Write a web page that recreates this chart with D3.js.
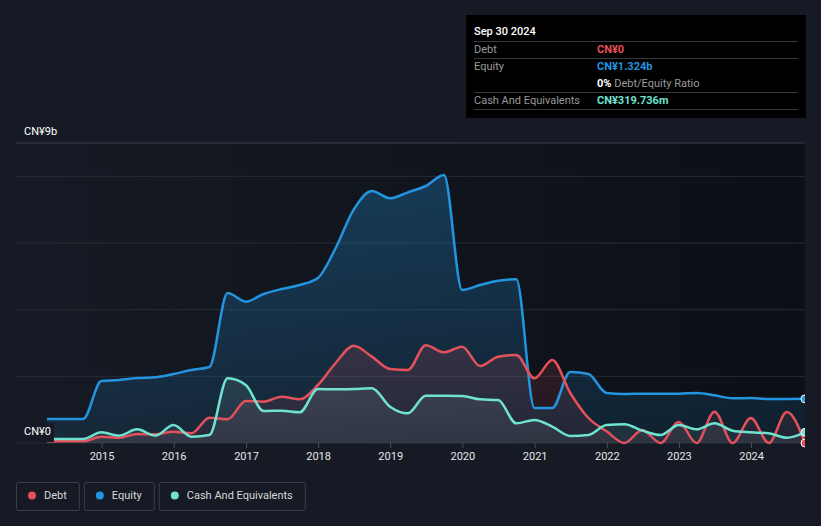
<!DOCTYPE html>
<html>
<head>
<meta charset="utf-8">
<script src="https://cdn.jsdelivr.net/npm/d3@7"></script>
<style>
  body { margin: 0; background: #151a24; }
  svg { display: block; font-family: Roboto, "Noto Sans", sans-serif; }
</style>
</head>
<body>
<svg id="chart" width="821" height="526"></svg>
<script>
// quarter ends, Mar 2014 .. Sep 2024
const quarters = d3.range(0, 43).map(i => {
  const yr = 2014 + Math.floor(i / 4);
  const q = i % 4; // 0 = Mar, 1 = Jun, 2 = Sep, 3 = Dec
  return new Date(yr, q * 3 + 2, q === 0 || q === 3 ? 31 : 30);
});

// values in CN¥ billions
const equity = [0.72, 0.72, 0.72, 1.86, 1.89, 1.95, 1.97, 2.07, 2.19, 2.28, 4.5, 4.24, 4.47, 4.62, 4.74,
  4.95, 5.85, 7.0, 7.56, 7.34, 7.52, 7.71, 8.04, 4.59, 4.74, 4.87, 4.91, 1.05, 1.05, 2.13, 2.07,
  1.5, 1.47, 1.48, 1.48, 1.48, 1.5, 1.43, 1.34, 1.35, 1.32, 1.32, 1.324];
const debt = [0.05, 0.05, 0.05, 0.19, 0.16, 0.27, 0.26, 0.34, 0.29, 0.76, 0.71, 1.26, 1.24, 1.39, 1.31,
  1.74, 2.4, 2.92, 2.59, 2.22, 2.19, 2.93, 2.72, 2.89, 2.31, 2.59, 2.64, 1.94, 2.49, 1.5, 0.75,
  0.35, 0, 0.39, 0, 0.63, 0, 0.94, 0, 0.75, 0, 0.93, 0];
const cash = [0.12, 0.12, 0.12, 0.32, 0.22, 0.41, 0.22, 0.54, 0.19, 0.24, 1.94, 1.74, 0.96, 0.97, 0.92,
  1.62, 1.61, 1.62, 1.64, 1.09, 0.89, 1.42, 1.42, 1.41, 1.31, 1.29, 0.59, 0.69, 0.49, 0.21, 0.24,
  0.54, 0.56, 0.37, 0.24, 0.54, 0.41, 0.59, 0.37, 0.32, 0.29, 0.16, 0.32];

const yGrid = [0, 2, 4, 6, 8, 9];
const yLabels = [{ v: 9, t: "CN¥9b" }, { v: 0, t: "CN¥0" }];

const series = [
  { name: "Equity", values: equity, color: "#2394df", fillTop: 0.32, fillBot: 0.12 },
  { name: "Debt", values: debt, color: "#e4515a", fillTop: 0.32, fillBot: 0.08 },
  { name: "Cash And Equivalents", values: cash, color: "#6fe3cf", fillTop: 0.3, fillBot: 0.12 }
];
const legendOrder = ["Debt", "Equity", "Cash And Equivalents"];

const tipRows = [
  { label: "Debt", value: "CN¥0", color: "#e4515a" },
  { label: "Equity", value: "CN¥1.324b", color: "#2394df" },
  { label: "", value: "0%", extra: " Debt/Equity Ratio", color: "#ffffff" },
  { label: "Cash And Equivalents", value: "CN¥319.736m", color: "#6fe3cf" }
];

const svg = d3.select("#chart");
const pLeft = 16, pRight = 805, pTop = 143, pBottom = 443;

const x = d3.scaleTime()
  .domain([quarters[0], quarters[quarters.length - 1]])
  .range([47, pRight]);
const y = d3.scaleLinear().domain([0, 9]).range([pBottom, pTop]);

const defs = svg.append("defs");
const bgGrad = defs.append("linearGradient").attr("id", "bgGrad");
bgGrad.append("stop").attr("offset", "0%").attr("stop-color", "#151a24");
bgGrad.append("stop").attr("offset", "100%").attr("stop-color", "#0c0f15");

svg.append("rect")
  .attr("x", pLeft).attr("y", pTop)
  .attr("width", pRight - pLeft).attr("height", pBottom - pTop)
  .attr("fill", "url(#bgGrad)");

// grid
svg.selectAll(".grid")
  .data(yGrid)
  .join("line")
  .attr("x1", pLeft).attr("x2", pRight)
  .attr("y1", d => y(d)).attr("y2", d => y(d))
  .attr("stroke", d => d === 9 ? "#3c424c" : "#272c35")
  .attr("stroke-width", 1);

series.forEach((s, i) => {
  const g = defs.append("linearGradient")
    .attr("id", "fill" + i)
    .attr("gradientUnits", "userSpaceOnUse")
    .attr("x1", 0).attr("x2", 0)
    .attr("y1", pTop).attr("y2", pBottom);
  g.append("stop").attr("offset", "0%").attr("stop-color", s.color).attr("stop-opacity", s.fillTop);
  g.append("stop").attr("offset", "100%").attr("stop-color", i === 2 ? "#8a9aa0" : s.color).attr("stop-opacity", s.fillBot);
});

const area = d3.area()
  .x((d, i) => x(quarters[i]))
  .y0(pBottom)
  .y1(d => y(d))
  .curve(d3.curveMonotoneX);
const line = d3.line()
  .x((d, i) => x(quarters[i]))
  .y(d => y(d))
  .curve(d3.curveMonotoneX);

series.forEach((s, i) => {
  svg.append("path")
    .attr("d", area(s.values))
    .attr("fill", "url(#fill" + i + ")");
});
series.forEach(s => {
  svg.append("path")
    .attr("d", line(s.values))
    .attr("fill", "none")
    .attr("stroke", s.color)
    .attr("stroke-width", 2.5);
});

// end markers
const last = quarters.length - 1;
svg.selectAll(".dot")
  .data(series)
  .join("circle")
  .attr("cx", x(quarters[last]))
  .attr("cy", d => y(d.values[last]))
  .attr("r", 4)
  .attr("fill", d => d.color)
  .attr("stroke", "#ffffff")
  .attr("stroke-width", 1);

// cover the right side so markers are cut at the plot edge
svg.append("rect")
  .attr("x", pRight).attr("y", pTop - 5)
  .attr("width", 821 - pRight).attr("height", pBottom - pTop + 10)
  .attr("fill", "#151a24");

// x axis
const xAxis = d3.axisBottom(x)
  .ticks(d3.timeYear.every(1))
  .tickFormat(d3.timeFormat("%Y"))
  .tickSize(5)
  .tickPadding(4);
const ax = svg.append("g")
  .attr("transform", `translate(0,${pBottom})`)
  .call(xAxis);
ax.select(".domain").remove();
ax.selectAll(".tick line").attr("stroke", "#4a505a");
ax.selectAll(".tick text")
  .attr("fill", "#e6e6e6")
  .attr("font-size", 11)
  .attr("font-family", "Roboto, sans-serif");

// y labels
yLabels.forEach(l => {
  const t = svg.append("text")
    .attr("x", 24)
    .attr("y", y(l.v) - 8)
    .attr("fill", "#ffffff")
    .attr("font-size", 11)
    .text(l.t);
  if (l.v === 0) {
    const bb = t.node().getBBox();
    svg.insert("rect", () => t.node())
      .attr("x", pLeft).attr("y", bb.y - 2)
      .attr("width", bb.x + bb.width + 3 - pLeft).attr("height", pBottom - bb.y + 1)
      .attr("fill", "#151a24");
  }
});

// tooltip
const tip = svg.append("g").attr("transform", "translate(466,15)");
tip.append("rect").attr("width", 340).attr("height", 103).attr("fill", "#000000");
tip.append("text")
  .attr("x", 8).attr("y", 20)
  .attr("fill", "#ffffff").attr("font-size", 11).attr("font-weight", 500)
  .text("Sep 30 2024");
tipRows.forEach((r, i) => {
  const ry = 38 + i * 17;
  if (i !== 2) {
    tip.append("line")
      .attr("x1", 8).attr("x2", 332)
      .attr("y1", ry - 11.5).attr("y2", ry - 11.5)
      .attr("stroke", "#3a3a3a");
  }
  tip.append("text")
    .attr("x", 8).attr("y", ry)
    .attr("fill", "#9a9a9a").attr("font-size", 11)
    .text(r.label);
  const v = tip.append("text")
    .attr("x", 131).attr("y", ry)
    .attr("font-size", 11);
  v.append("tspan").attr("fill", r.color).attr("font-weight", 700).text(r.value);
  if (r.extra) v.append("tspan").attr("fill", "#9a9a9a").text(r.extra);
});
tip.append("line")
  .attr("x1", 8).attr("x2", 332)
  .attr("y1", 38 + 3 * 17 + 5.5).attr("y2", 38 + 3 * 17 + 5.5)
  .attr("stroke", "#3a3a3a");

// legend
const colorOf = Object.fromEntries(series.map(s => [s.name, s.color]));
let lx = 16;
legendOrder.forEach(name => {
  const g = svg.append("g").attr("transform", `translate(${lx},482)`);
  const t = g.append("text")
    .attr("x", 28).attr("y", 17)
    .attr("fill", "#d8d8d8").attr("font-size", 11)
    .text(name);
  const w = t.node().getComputedTextLength() + 40;
  g.insert("rect", () => t.node())
    .attr("x", 0.5).attr("y", 0.5)
    .attr("width", w).attr("height", 28)
    .attr("rx", 2)
    .attr("fill", "none")
    .attr("stroke", "#3a404a");
  g.append("circle")
    .attr("cx", 16).attr("cy", 13.5).attr("r", 4)
    .attr("fill", colorOf[name]);
  lx += w + 5;
});
</script>
</body>
</html>
